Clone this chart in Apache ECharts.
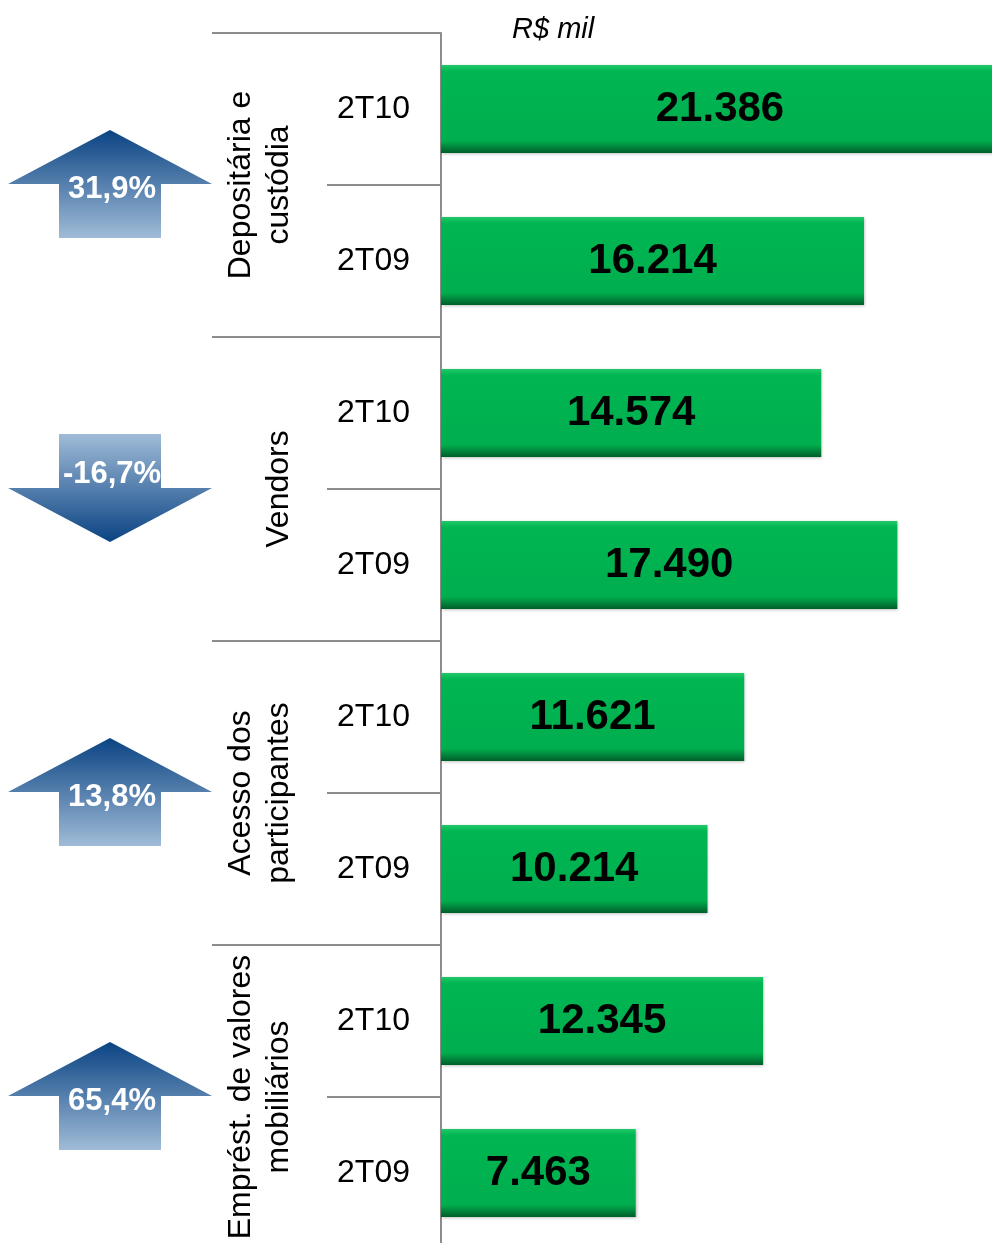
<!DOCTYPE html>
<html>
<head>
<meta charset="utf-8">
<script src="https://cdn.jsdelivr.net/npm/echarts@6/dist/echarts.min.js"></script>
<style>
html, body { margin: 0; padding: 0; background: #fff; }
#chart { width: 992px; height: 1243px; }
</style>
</head>
<body>
<div id="chart"></div>
<script>
// values in R$ mil
var groups = ['Depositária e\ncustódia', 'Vendors', 'Acesso dos\nparticipantes', 'Emprést. de valores\nmobiliários'];
var periods = ['2T10', '2T09'];
var values2T10 = [21386, 14574, 11621, 12345];
var values2T09 = [16214, 17490, 10214, 7463];
var unitLabel = 'R$ mil';

var FONT = 'Liberation Sans, Arial, sans-serif';
var GRAY = '#8c8c8c';

// one category per bar, key keeps them unique, label shows only the period
var cats = [];
var vals = [];
groups.forEach(function (g, i) {
  cats.push(i + '|' + periods[0]);
  vals.push(values2T10[i]);
  cats.push(i + '|' + periods[1]);
  vals.push(values2T09[i]);
});

function fmtThousands(n) {
  return String(n).replace(/(\d)(?=(?:\d{3})+$)/g, '$1.');
}

var chart = echarts.init(document.getElementById('chart'));

chart.setOption({
  animation: false,
  title: {
    text: unitLabel,
    left: 507,
    top: 10,
    textStyle: { fontFamily: FONT, fontSize: 29, fontStyle: 'italic', fontWeight: 'normal', color: '#000' }
  },
  // the plot runs past the bottom and right edges, like the cropped original
  grid: { left: 441, top: 33, width: 574, height: 1216, outerBoundsMode: 'none', containLabel: false },
  xAxis: { type: 'value', min: 0, max: 22000, show: false },
  yAxis: [
    {
      type: 'category',
      data: cats,
      inverse: true,
      position: 'left',
      axisLine: { show: true, lineStyle: { color: GRAY, width: 2 } },
      axisTick: { show: true, interval: 0, length: 114, lineStyle: { color: GRAY, width: 2 } },
      axisLabel: {
        interval: 0,
        margin: 31,
        fontFamily: FONT,
        fontSize: 32,
        color: '#000',
        padding: [4, 0, 0, 0],
        formatter: function (v) { return v.split('|')[1]; }
      }
    },
    {
      type: 'category',
      data: groups,
      inverse: true,
      position: 'left',
      offset: 0,
      axisLine: { show: false },
      axisTick: { show: true, interval: 0, length: 229, lineStyle: { color: GRAY, width: 2 } },
      axisLabel: {
        interval: 0,
        rotate: 90,
        margin: 143,
        fontFamily: FONT,
        fontSize: 32,
        lineHeight: 38,
        color: '#000'
      }
    }
  ],
  series: [
    {
      type: 'bar',
      yAxisIndex: 0,
      data: vals,
      barWidth: 88,
      itemStyle: {
        color: new echarts.graphic.LinearGradient(0, 0, 0, 1, [
          { offset: 0, color: '#22c868' },
          { offset: 0.07, color: '#00b652' },
          { offset: 0.86, color: '#00ae4f' },
          { offset: 1, color: '#005e29' }
        ]),
        shadowColor: 'rgba(0,0,0,0.25)',
        shadowBlur: 3,
        shadowOffsetX: 1,
        shadowOffsetY: 1
      },
      label: {
        show: true,
        position: 'inside',
        fontFamily: FONT,
        fontSize: 42,
        fontWeight: 'bold',
        color: '#000',
        textBorderWidth: 0,
        formatter: function (p) { return fmtThousands(p.value); }
      }
    }
  ]
});

// change arrows, one per group, placed at the group's centre on the axis
var arrows = [];
groups.forEach(function (g, i) {
  var y1 = chart.convertToPixel({ yAxisIndex: 0 }, cats[2 * i]);
  var y2 = chart.convertToPixel({ yAxisIndex: 0 }, cats[2 * i + 1]);
  var base = (y1 + y2) / 2 - 1;
  var chg = (values2T10[i] / values2T09[i] - 1) * 100;
  var up = chg >= 0;
  var h = 54;
  var pts, dark = '#0a4383', light = '#a0bbd7';
  if (up) {
    pts = [[110, base - h], [212, base], [161, base], [161, base + h], [59, base + h], [59, base], [8, base]];
  } else {
    pts = [[59, base - h], [161, base - h], [161, base], [212, base], [110, base + h], [8, base], [59, base]];
  }
  arrows.push({
    type: 'polygon',
    shape: { points: pts },
    style: {
      fill: new echarts.graphic.LinearGradient(0, 0, 0, 1, up
        ? [{ offset: 0, color: dark }, { offset: 1, color: light }]
        : [{ offset: 0, color: light }, { offset: 1, color: dark }])
    },
    z: 10
  });
  arrows.push({
    type: 'text',
    x: 112,
    y: up ? base + 5 : base - 14,
    style: {
      text: chg.toFixed(1).replace('.', ',') + '%',
      fill: '#fff',
      font: 'bold 31px ' + FONT,
      align: 'center',
      verticalAlign: 'middle'
    },
    z: 11
  });
});

chart.setOption({ graphic: arrows });
</script>
</body>
</html>
